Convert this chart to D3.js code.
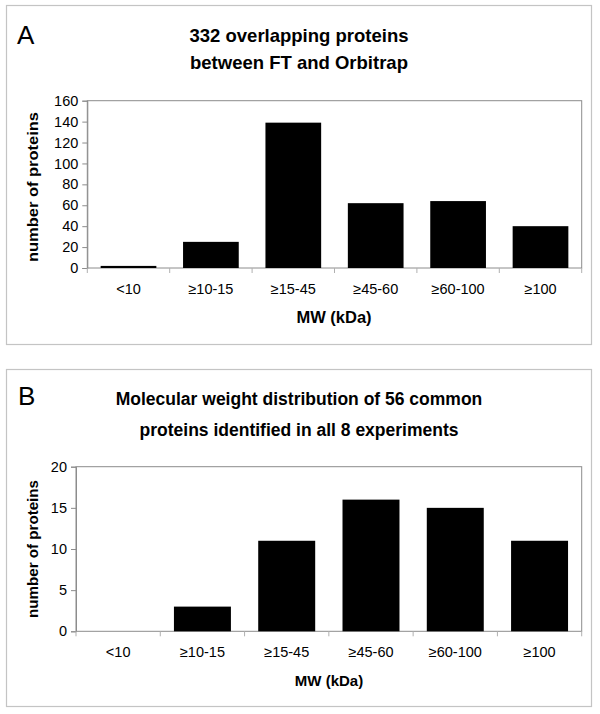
<!DOCTYPE html>
<html>
<head>
<meta charset="utf-8">
<script src="https://cdn.jsdelivr.net/npm/d3@7"></script>
<style>
  html, body { margin: 0; padding: 0; background: #fff; }
  svg { display: block; font-family: "Liberation Sans", Arial, sans-serif; }
</style>
</head>
<body>
<svg id="chart" width="600" height="714"></svg>
<script>
// ---- data ----
const categories = ["<10", "\u226510-15", "\u226515-45", "\u226545-60", "\u226560-100", "\u2265100"];
const valuesA = [2, 25, 139, 62, 64, 40];
const valuesB = [0, 3, 11, 16, 15, 11];
const ticksA = [0, 20, 40, 60, 80, 100, 120, 140, 160];
const ticksB = [0, 5, 10, 15, 20];
const titleA = ["332 overlapping proteins", "between FT and Orbitrap"];
const titleB = ["Molecular weight distribution of 56 common", "proteins identified in all 8 experiments"];
const yTitle = "number of proteins";
const xTitle = "MW (kDa)";

const svg = d3.select("#chart");

function panel(cfg) {
  const g = svg.append("g");
  // panel frame
  g.append("rect")
    .attr("x", cfg.box[0] + 0.5).attr("y", cfg.box[1] + 0.5)
    .attr("width", cfg.box[2] - cfg.box[0]).attr("height", cfg.box[3] - cfg.box[1])
    .attr("fill", "none").attr("stroke", "#c4c4c4").attr("stroke-width", 1.2);

  // panel letter
  g.append("text").attr("x", cfg.letterX).attr("y", cfg.letterY)
    .attr("font-size", 26).attr("fill", "#000").text(cfg.letter);

  // title
  cfg.title.forEach((t, i) => {
    g.append("text").attr("x", 299).attr("y", cfg.titleY[i])
      .attr("text-anchor", "middle").attr("font-weight", "bold")
      .attr("font-size", cfg.titleSize).attr("fill", "#000").text(t);
  });

  const p = cfg.plot; // [left, top, right, bottom]
  const x = d3.scaleBand().domain(categories).range([p[0], p[2]])
    .paddingInner(0.324).paddingOuter(0.162);
  const y = d3.scaleLinear().domain([0, cfg.ticks[cfg.ticks.length - 1]]).range([p[3], p[1]]);

  // plot frame
  g.append("rect")
    .attr("x", p[0]).attr("y", p[1])
    .attr("width", p[2] - p[0]).attr("height", p[3] - p[1])
    .attr("fill", "none").attr("stroke", "#8c8c8c").attr("stroke-width", 1);

  // bars
  g.selectAll("rect.bar").data(cfg.values).enter().append("rect")
    .attr("class", "bar")
    .attr("x", (d, i) => x(categories[i]))
    .attr("width", x.bandwidth())
    .attr("y", d => y(d))
    .attr("height", d => p[3] - y(d))
    .attr("fill", "#000");

  // y axis
  const yAxis = d3.axisLeft(y).tickValues(cfg.ticks).tickSize(5).tickPadding(4);
  const ya = g.append("g").attr("transform", `translate(${p[0]},0)`).call(yAxis);
  ya.select(".domain").attr("stroke", "#8c8c8c");
  ya.selectAll(".tick line").attr("stroke", "#8c8c8c");
  ya.selectAll(".tick text").attr("font-size", 14.5).attr("fill", "#000")
    .attr("font-family", "Liberation Sans, Arial, sans-serif");

  // x axis: category labels
  const xAxis = d3.axisBottom(x).tickSize(0).tickPadding(cfg.xLabelPad);
  const xa = g.append("g").attr("transform", `translate(0,${p[3]})`).call(xAxis);
  xa.select(".domain").remove();
  xa.selectAll(".tick text").attr("font-size", 14.5).attr("fill", "#000")
    .attr("font-family", "Liberation Sans, Arial, sans-serif");
  // boundary ticks between categories
  const step = x.step();
  const bounds = d3.range(categories.length + 1).map(i => p[0] + i * step);
  g.selectAll("line.xb").data(bounds).enter().append("line")
    .attr("class", "xb")
    .attr("x1", d => d).attr("x2", d => d)
    .attr("y1", p[3]).attr("y2", p[3] + 5)
    .attr("stroke", "#b0b0b0");

  // axis titles
  g.append("text")
    .attr("transform", `translate(${cfg.yTitleX},${cfg.yTitleCy}) rotate(-90)`)
    .attr("text-anchor", "middle").attr("font-weight", "bold")
    .attr("font-size", cfg.yTitleSize)
    .attr("textLength", cfg.yTitleLen).attr("lengthAdjust", "spacingAndGlyphs")
    .attr("fill", "#000").text(yTitle);

  g.append("text").attr("x", cfg.xTitleX).attr("y", cfg.xTitleY)
    .attr("text-anchor", "middle").attr("font-weight", "bold")
    .attr("font-size", cfg.xTitleSize).attr("fill", "#000").text(xTitle);
}

panel({
  box: [6, 5, 591, 344],
  letter: "A", letterX: 17, letterY: 44,
  title: titleA, titleY: [41.5, 68.5], titleSize: 18.5,
  plot: [87.3, 100.7, 581.7, 268],
  values: valuesA, ticks: ticksA,
  xLabelPad: 16,
  yTitleX: 38, yTitleCy: 187, yTitleSize: 14.5, yTitleLen: 150,
  xTitleX: 334, xTitleY: 323, xTitleSize: 16.5
});

panel({
  box: [6, 369, 591, 706],
  letter: "B", letterX: 18, letterY: 405,
  title: titleB, titleY: [405, 436], titleSize: 17.5,
  plot: [76, 466.7, 581.7, 631.3],
  values: valuesB, ticks: ticksB,
  xLabelPad: 15,
  yTitleX: 38, yTitleCy: 549, yTitleSize: 14, yTitleLen: 138,
  xTitleX: 329, xTitleY: 686, xTitleSize: 15
});
</script>
</body>
</html>
